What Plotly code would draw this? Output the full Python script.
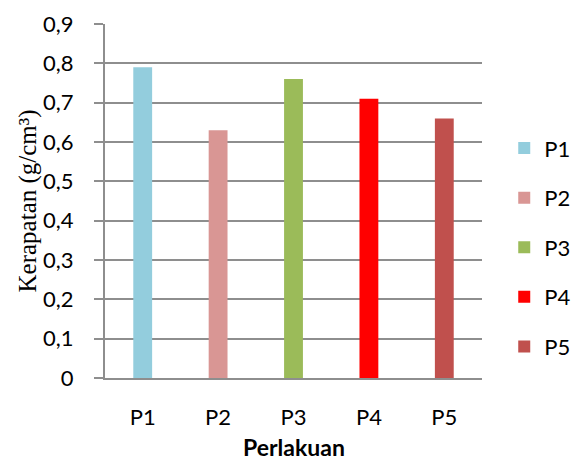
import plotly.graph_objects as go

# Kerapatan per perlakuan
categories = ["P1", "P2", "P3", "P4", "P5"]
values = [0.79, 0.63, 0.76, 0.71, 0.66]
colors = ["#93CDDD", "#D99694", "#9BBB59", "#FF0000", "#C0504D"]
y_ticks = [0, 0.1, 0.2, 0.3, 0.4, 0.5, 0.6, 0.7, 0.8, 0.9]
y_tick_labels = ["0", "0,1", "0,2", "0,3", "0,4", "0,5", "0,6", "0,7", "0,8", "0,9"]
x_title = "Perlakuan"
y_title = "Kerapatan (g/cm³)"

sans = "Lato, 'Open Sans', sans-serif"
serif = "'Liberation Serif', 'Times New Roman', serif"
grid_color = "#8E8E8E"

fig = go.Figure()
for cat, val, col in zip(categories, values, colors):
    fig.add_trace(go.Bar(
        x=[cat], y=[val], name=cat, width=0.25,
        marker=dict(color=col, line=dict(width=0)),
        legendgroup=cat,
    ))

# axis titles placed as annotations in plot-area coordinates
fig.add_annotation(text=f"<b>{x_title}</b>", xref="paper", yref="paper",
                   x=0.5, y=-0.194, xanchor="center", yanchor="middle",
                   showarrow=False, font=dict(family=sans, size=23, color="black"))
fig.add_annotation(text=y_title, xref="paper", yref="paper",
                   x=-0.203, y=0.5, xanchor="center", yanchor="middle",
                   textangle=-90, showarrow=False,
                   font=dict(family=serif, size=25, color="black"))

fig.update_layout(
    width=573, height=461,
    margin=dict(l=105, r=91, t=24, b=83, autoexpand=False),
    paper_bgcolor="white", plot_bgcolor="white",
    barmode="overlay",
    font=dict(family=sans, size=22, color="black"),
    showlegend=True,
    legend=dict(
        xref="container", yref="container",
        x=0.880, xanchor="left", y=0.724, yanchor="top",
        font=dict(family=sans, size=22, color="black"),
        tracegroupgap=18, itemwidth=30,
        bgcolor="rgba(0,0,0,0)",
    ),
    xaxis=dict(
        categoryorder="array", categoryarray=categories,
        showline=True, linecolor=grid_color, linewidth=2,
        ticks="", showgrid=False,
        ticklabelstandoff=19,
        tickfont=dict(family=sans, size=22),
    ),
    yaxis=dict(
        range=[0, 0.9], tickvals=y_ticks, ticktext=y_tick_labels,
        showline=True, linecolor=grid_color, linewidth=2,
        ticks="outside", ticklen=9, tickwidth=2, tickcolor=grid_color,
        showgrid=True, gridcolor=grid_color, gridwidth=2,
        zeroline=False,
        ticklabelstandoff=16,
        tickfont=dict(family=sans, size=22),
    ),
)

fig.write_html("out.html")
